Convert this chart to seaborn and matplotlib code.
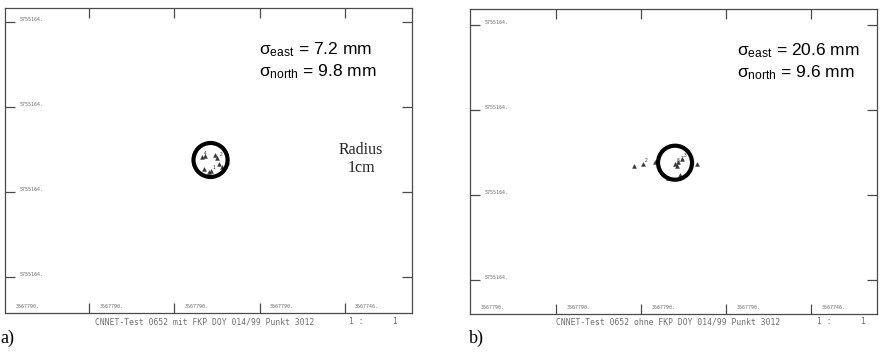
import numpy as np
import pandas as pd
import matplotlib
matplotlib.use("Agg")
import matplotlib.pyplot as plt
from matplotlib.patches import Circle
import seaborn as sns

# ---------------- data ----------------
panels = ["a)", "b)"]
sigma_east = [7.2, 20.6]      # mm
sigma_north = [9.8, 9.6]      # mm
footers = ["CNNET-Test 0652 mit FKP DOY 014/99 Punkt 3012",
           "CNNET-Test 0652 ohne FKP DOY 014/99 Punkt 3012"]
scale_text = "1 :      1"

# local grid (m) – ticks every 5 cm
x_ticks = [0.00, 0.05, 0.10, 0.15]
y_ticks = [0.00, 0.05, 0.10, 0.15]
x_lims = [(-0.0494, 0.1894), (-0.0506, 0.1888)]
y_lims = [(-0.0212, 0.1582), (-0.0200, 0.1594)]
x_tick_labels = ["3567790.", "3567790.", "3567790.", "3567790.", "3567746."]
y_tick_labels = ["5755164.", "5755164.", "5755164.", "5755164."]

# centre of the reference circle (m, local) and radius 1 cm
centres = [(0.0712, 0.0688), (0.0700, 0.0690)]
radius = 0.01

# epoch positions: offsets from centre in mm
east_a = [-5.3, -3.5, 4.0, 5.0, 7.0, 0.0, -1.0, 9.5, 2.5, -4.0]
north_a = [2.0, 2.3, 1.0, -2.5, -4.0, -6.5, -7.0, -1.0, 3.0, -5.5]
labels_a = ["4", "", "2", "", "", "1", "", "", "", ""]
east_b = [-19.0, -24.0, -12.0, 2.0, 0.0, 4.0, 13.0, 3.0, -4.0, 1.0]
north_b = [-0.5, -2.0, 0.5, 0.5, -1.0, 2.0, -1.0, -7.0, -9.0, -2.0]
labels_b = ["2", "", "", "2", "8", "3", "", "", "", ""]

east_all = [east_a, east_b]
north_all = [north_a, north_b]
labels_all = [labels_a, labels_b]

# ---------------- style ----------------
sns.set_theme(style="white")
plt.rcParams["font.family"] = ["Liberation Sans", "DejaVu Sans"]
plt.rcParams["mathtext.fontset"] = "custom"
plt.rcParams["mathtext.rm"] = "Liberation Sans"
plt.rcParams["mathtext.it"] = "Liberation Sans:italic"
plt.rcParams["mathtext.bf"] = "Liberation Sans:bold"

fig = plt.figure(figsize=(8.85, 3.56), dpi=100)
W, H = 885, 356
boxes = [(5, 8, 407, 305), (470, 9, 407, 305)]
spine_col = "#4a4a4a"
small_col = "#707070"

for i in range(2):
    l, t, w, h = boxes[i]
    ax = fig.add_axes([l / W, (H - t - h) / H, w / W, h / H])
    ax.set_xlim(*x_lims[i])
    ax.set_ylim(*y_lims[i])
    cx, cy = centres[i]

    df = pd.DataFrame({
        "east": [cx + e / 1000 for e in east_all[i]],
        "north": [cy + n / 1000 for n in north_all[i]],
    })
    sns.scatterplot(data=df, x="east", y="north", ax=ax, marker="^", s=8,
                    color="#333333", edgecolor="#333333", linewidth=0.3,
                    legend=False, zorder=3)
    for xe, yn, lab in zip(df["east"], df["north"], labels_all[i]):
        if lab:
            ax.text(xe + 0.0012, yn + 0.0006, lab, fontsize=3.5,
                    color="#333333", ha="left", va="bottom")

    ax.add_patch(Circle((cx, cy), radius, fill=False, lw=3.0,
                        edgecolor="black", zorder=4))

    # ticks on all sides, pointing in
    ax.set_xticks(x_ticks)
    ax.set_yticks(y_ticks)
    ax.tick_params(direction="in", length=7, width=0.9, color=spine_col,
                   top=True, bottom=True, left=True, right=True,
                   labelbottom=False, labelleft=False)
    for s in ax.spines.values():
        s.set_color(spine_col)
        s.set_linewidth(0.9)
    ax.set_xlabel("")
    ax.set_ylabel("")

    # tiny coordinate labels inside the frame
    xpos = [x_lims[i][0]] + x_ticks
    for xv, lab in zip(xpos, x_tick_labels):
        ax.text(xv + 0.006, 0.012, lab, transform=ax.get_xaxis_transform(),
                fontsize=3.6, color=small_col, ha="left", va="bottom",
                family=["DejaVu Sans Mono"])
    for yv, lab in zip(y_ticks, y_tick_labels):
        ax.text(0.036, yv, lab, transform=ax.get_yaxis_transform(),
                fontsize=3.6, color=small_col, ha="left", va="bottom",
                family=["DejaVu Sans Mono"])

    # sigma annotation (upright sigma)
    tx = 0.625 if i == 0 else 0.655
    ax.text(tx, 0.865,
            "σ" + r"$_{\mathrm{east}}$" + " = %.1f mm" % sigma_east[i],
            transform=ax.transAxes, fontsize=12.5, color="black",
            ha="left", va="center")
    ax.text(tx, 0.79,
            "σ" + r"$_{\mathrm{north}}$" + " = %.1f mm" % sigma_north[i],
            transform=ax.transAxes, fontsize=12.5, color="black",
            ha="left", va="center")

    if i == 0:
        ax.text(0.875, 0.505, "Radius\n1cm", transform=ax.transAxes,
                fontsize=11.5, family=["Liberation Serif"], ha="center",
                va="center", linespacing=1.1, color="#222222")

    # footer line under the frame
    fx = (95 if i == 0 else 556) / W
    fig.text(fx, 1 - 322 / H, footers[i], fontsize=5.8,
             family=["DejaVu Sans Mono"], color=small_col, ha="left",
             va="center")
    sx = (349 if i == 0 else 817) / W
    fig.text(sx, 1 - 322 / H, scale_text, fontsize=5.8,
             family=["DejaVu Sans Mono"], color=small_col, ha="left",
             va="center")

    # panel letter
    px = (0 if i == 0 else 469) / W
    fig.text(px, 1 - 338 / H, panels[i], fontsize=13,
             family=["Liberation Serif"], color="black", ha="left",
             va="center")

fig.savefig("out.png", dpi=100, facecolor="white")
